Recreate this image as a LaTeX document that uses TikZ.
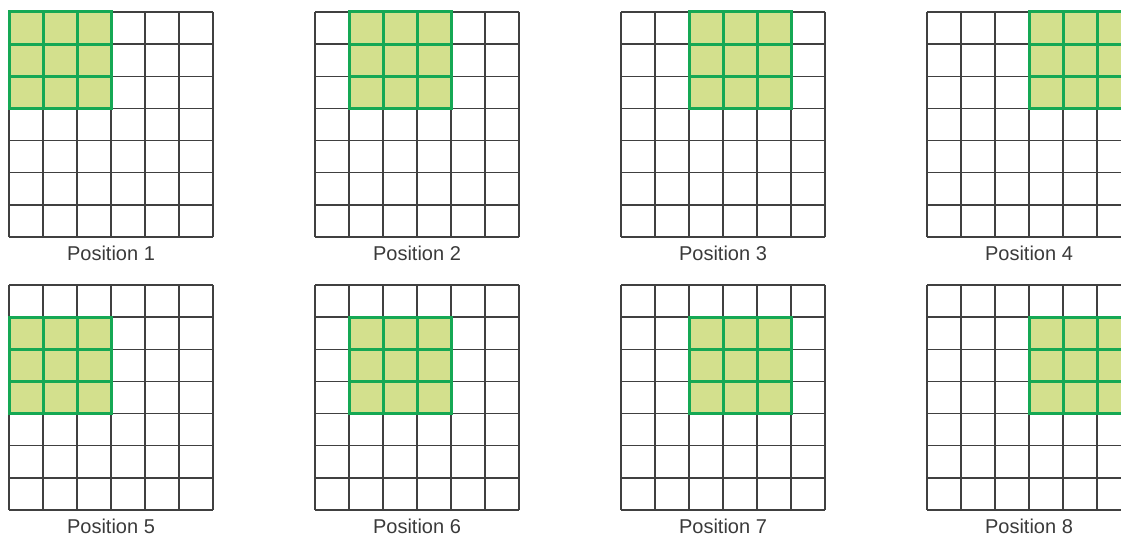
\documentclass[tikz,border=0pt]{standalone}
\usepackage{fontspec}
\setmainfont{Liberation Sans}
\definecolor{gridc}{HTML}{404040}
\definecolor{winline}{HTML}{15A854}
\definecolor{winfill}{HTML}{D3E08D}
\definecolor{lblc}{HTML}{3A3A3A}
\tikzset{
  gridline/.style={draw=gridc, line width=1.3pt},
  winedge/.style={draw=winline, line width=3pt, line cap=rect},
  winarea/.style={fill=winfill},
  lbl/.style={text=lblc, font=\fontsize{20pt}{22pt}\selectfont, inner sep=0pt, anchor=base}
}
\begin{document}
\begin{tikzpicture}[x=1pt,y=-1pt]
\useasboundingbox (0,0) rectangle (1121,535);
\clip (0,0) rectangle (1121,535);
\def\cw{34}
\def\rh{32.143}
\foreach \r in {0,1}{
  \foreach \c in {0,1,2,3}{
    \pgfmathsetmacro\X{9+306*\c}
    \pgfmathsetmacro\Y{12+273*\r}
    \pgfmathtruncatemacro\n{4*\r+\c+1}
    % grid
    \foreach \i in {0,...,6}{
      \draw[gridline] (\X+\i*\cw,\Y) -- (\X+\i*\cw,\Y+7*\rh);
    }
    \foreach \j in {0,...,7}{
      \draw[gridline] (\X,\Y+\j*\rh) -- (\X+6*\cw,\Y+\j*\rh);
    }
    % window
    \pgfmathsetmacro\WX{\X+\c*\cw}
    \pgfmathsetmacro\WY{\Y+\r*\rh}
    \fill[winarea] (\WX,\WY) rectangle (\WX+3*\cw,\WY+3*\rh);
    \foreach \i in {0,...,3}{
      \draw[winedge] (\WX+\i*\cw,\WY) -- (\WX+\i*\cw,\WY+3*\rh);
      \draw[winedge] (\WX,\WY+\i*\rh) -- (\WX+3*\cw,\WY+\i*\rh);
    }
    % label
    \node[lbl] (pos\n) at (\X+3*\cw,\Y+7*\rh+23) {Position \n};
  }
}
\end{tikzpicture}
\end{document}
